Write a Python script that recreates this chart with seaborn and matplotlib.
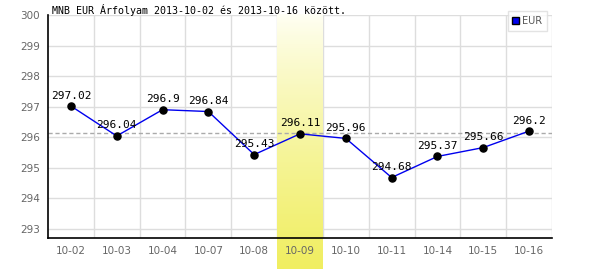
import numpy as np
import matplotlib
matplotlib.use("Agg")
import matplotlib.pyplot as plt
import seaborn as sns
import pandas as pd
from matplotlib.colors import LinearSegmentedColormap
from matplotlib.patches import Patch

dates = ["10-02", "10-03", "10-04", "10-07", "10-08", "10-09", "10-10", "10-11", "10-14", "10-15", "10-16"]
values = [297.02, 296.04, 296.9, 296.84, 295.43, 296.11, 295.96, 294.68, 295.37, 295.66, 296.2]
labels = ["297.02", "296.04", "296.9", "296.84", "295.43", "296.11", "295.96", "294.68", "295.37", "295.66", "296.2"]
ref_level = 296.13
highlight = "10-09"
yticks = [293, 294, 295, 296, 297, 298, 299, 300]
title = "MNB EUR Árfolyam 2013-10-02 és 2013-10-16 között."

sns.set_theme(style="white")
plt.rcParams['font.family'] = ['DejaVu Sans Mono', 'DejaVu Sans']

df = pd.DataFrame({"date": dates, "value": values})

fig = plt.figure(figsize=(6, 2.7), dpi=100)
ax = fig.add_axes([48/600, 1-238/270, 504/600, 223/270])

x = np.arange(len(dates))
ax.set_xlim(-0.5, len(dates) - 0.5)
ax.set_ylim(292.7, 300.0)

# grid
for xv in np.arange(0.5, len(dates), 1):
    ax.axvline(xv, color="#dddddd", lw=1, zorder=0)
for yv in yticks:
    ax.axhline(yv, color="#dddddd", lw=1, zorder=0)

# highlight gradient
hi = dates.index(highlight)
grad = np.linspace(0, 1, 256).reshape(-1, 1) ** 0.8
cmap = LinearSegmentedColormap.from_list("yl", ["#fffff6", "#f0ee60"])
trans = ax.get_xaxis_transform()
ax.imshow(grad, cmap=cmap, aspect="auto", extent=[hi - 0.5, hi + 0.5, -0.14, 1.0],
          transform=trans, zorder=0.5, clip_on=False, origin="upper")

ax.axhline(ref_level, color="#aaaaaa", lw=1, ls=(0, (3, 2)), zorder=1)

sns.lineplot(data=df, x=x, y="value", ax=ax, color="#0000ee", lw=1, zorder=2, legend=False)
ax.scatter(x, values, color="black", s=26, zorder=3)

for xi, v, lab in zip(x, values, labels):
    ax.text(xi, v + 0.18, lab, ha="center", va="bottom", fontsize=8, color="black", zorder=4)

ax.set_xticks(x)
ax.set_xticklabels(dates, family="DejaVu Sans")
ax.set_yticks(yticks)
ax.set_yticklabels([str(t) for t in yticks], family="DejaVu Sans")
ax.tick_params(axis="both", labelsize=7.5, colors="#666666", length=0, pad=6)
ax.set_xlabel("")
ax.set_ylabel("")

for s in ["top", "right"]:
    ax.spines[s].set_visible(False)
for s in ["left", "bottom"]:
    ax.spines[s].set_color("black")
    ax.spines[s].set_linewidth(1.2)

fig.text(52/600, 1-10/270, title, fontsize=7.2, color="black", ha="left", va="center")

leg = ax.legend(handles=[Patch(facecolor="#0000ee", edgecolor="black", label="EUR")],
                loc="upper right", bbox_to_anchor=(1.0, 1.04), frameon=True,
                handlelength=0.7, handleheight=0.7, handletextpad=0.3, borderpad=0.5,
                fancybox=False, prop={"family": "DejaVu Sans", "size": 7})
leg.get_frame().set_edgecolor("#dddddd")
leg.get_frame().set_linewidth(1)
for t in leg.get_texts():
    t.set_color("#555555")

fig.savefig("out.png", dpi=100)
